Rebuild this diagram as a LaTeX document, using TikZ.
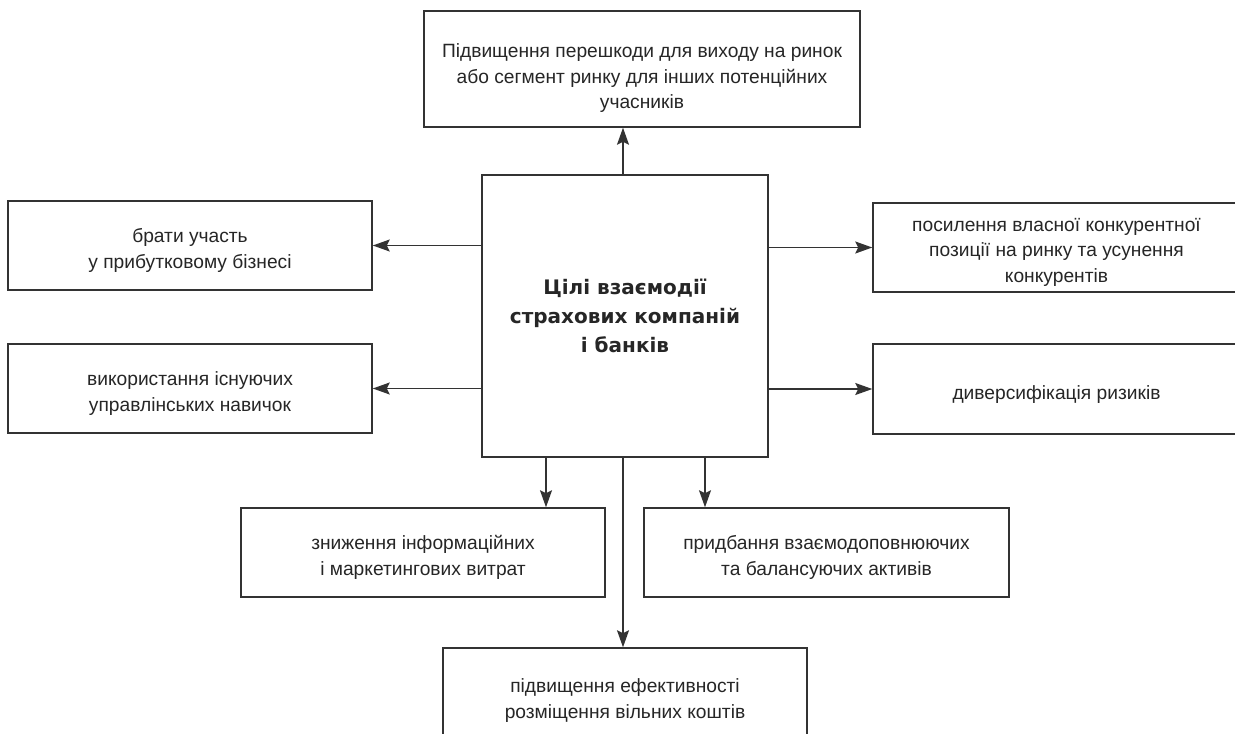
\documentclass[tikz,border=0pt]{standalone}
\usepackage{fontspec}
\setmainfont{Liberation Sans}
\newfontfamily\boldfam{DejaVu Sans}
\usetikzlibrary{arrows.meta}
\definecolor{linegray}{HTML}{333333}
\definecolor{txtgray}{HTML}{262626}
\newcommand\lowr[1][24pt]{\rule{0pt}{#1}}
\begin{document}
\begin{tikzpicture}[x=1pt,y=-1pt,
  box/.style={draw=linegray, line width=1.5pt, rectangle, inner sep=0pt, align=center,
    text=txtgray, font=\fontsize{19.2}{25.5}\selectfont},
  arr/.style={draw=linegray, line width=1.5pt, -{Stealth[length=17pt,width=12pt,inset=3pt]}}]
\useasboundingbox[fill=white] (0,0) rectangle (1235,734);
\node[box, minimum width=436pt, minimum height=116pt] (top) at (642,69)
  {\lowr[32pt]Підвищення перешкоди для виходу на ринок\\або сегмент ринку для інших потенційних\\учасників};
\node[box, minimum width=286pt, minimum height=282pt,
  font=\boldfam\bfseries\fontsize{20}{29}\selectfont] (c) at (625,316)
  {Цілі взаємодії\\страхових компаній\\і банків};
\node[box, minimum width=364pt, minimum height=89pt] (l1) at (190,245.5)
  {\lowr брати участь\\у прибутковому бізнесі};
\node[box, minimum width=364pt, minimum height=89pt] (l2) at (190,388.5)
  {\lowr використання існуючих\\управлінських навичок};
\node[box, minimum width=367pt, minimum height=89pt] (r1) at (1056.5,247.5)
  {\lowr[22pt]посилення власної конкурентної\\позиції на ринку та усунення\\конкурентів};
\node[box, minimum width=367pt, minimum height=90pt] (r2) at (1056.5,389)
  {\lowr диверсифікація ризиків};
\node[box, minimum width=364pt, minimum height=89pt] (bl) at (423,552.5)
  {\lowr зниження інформаційних\\і маркетингових витрат};
\node[box, minimum width=365pt, minimum height=89pt] (br) at (826.5,552.5)
  {\lowr придбання взаємодоповнюючих\\та балансуючих активів};
\node[box, minimum width=364pt, minimum height=95pt] (b) at (625,695.5)
  {\lowr підвищення ефективності\\розміщення вільних коштів};
\draw[arr] ([xshift=-2pt]c.north) -- ([xshift=-2pt]c.north |- top.south);
\draw[arr] (c.west |- l1.east) -- (l1.east);
\draw[arr] (c.west |- l2.east) -- (l2.east);
\draw[arr] (c.east |- r1.west) -- (r1.west);
\draw[arr] (c.east |- r2.west) -- (r2.west);
\draw[arr] ([xshift=-79pt]c.south) -- ([xshift=-79pt]c.south |- bl.north);
\draw[arr] ([xshift=80pt]c.south) -- ([xshift=80pt]c.south |- br.north);
\draw[arr] ([xshift=-2pt]c.south) -- ([xshift=-2pt]c.south |- b.north);
\end{tikzpicture}
\end{document}
